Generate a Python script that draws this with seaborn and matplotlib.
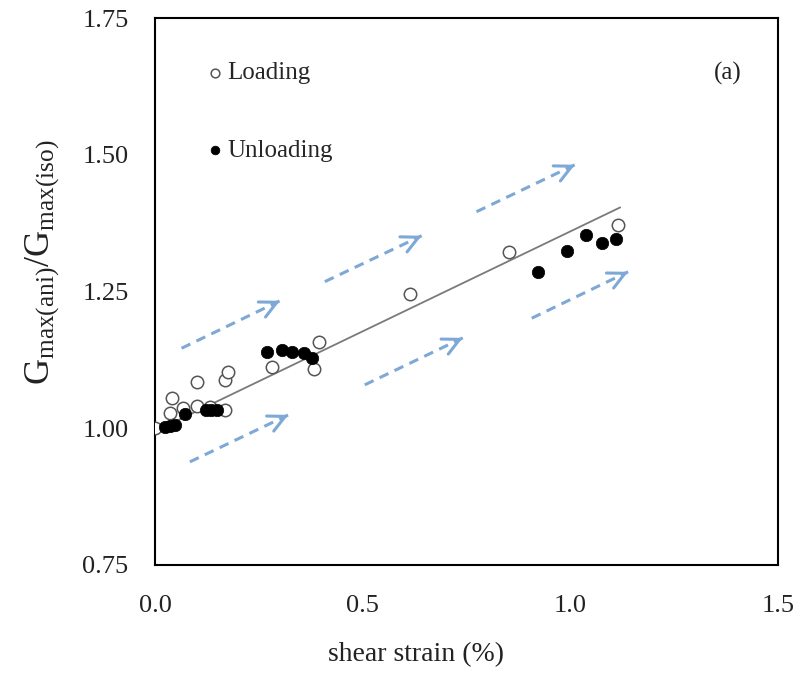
import numpy as np
import pandas as pd
import matplotlib
matplotlib.use("Agg")
import matplotlib.pyplot as plt
import seaborn as sns

# Loading path (open circles)
load_strain = [0.000, 0.036, 0.042, 0.068, 0.102, 0.102, 0.132, 0.168, 0.168, 0.176,
               0.282, 0.382, 0.395, 0.614, 0.853, 1.115]
load_ratio = [1.000, 1.027, 1.055, 1.036, 1.085, 1.040, 1.038, 1.033, 1.088, 1.103,
              1.111, 1.108, 1.158, 1.245, 1.322, 1.372]

# Unloading path (filled circles)
unload_strain = [0.024, 0.036, 0.048, 0.072, 0.124, 0.136, 0.150, 0.269, 0.305, 0.330,
                 0.359, 0.377, 0.923, 0.991, 1.037, 1.076, 1.110]
unload_ratio = [1.002, 1.004, 1.005, 1.026, 1.033, 1.033, 1.033, 1.139, 1.143, 1.140,
                1.138, 1.129, 1.286, 1.324, 1.353, 1.339, 1.346]

# Linear trend
trend_slope = 0.366
trend_intercept = 0.994
trend_range = [0.0, 1.12]

# Dashed direction arrows: (x0, y0, x1, y1)
arrows = [
    (0.084, 0.938, 0.321, 1.024),
    (0.064, 1.146, 0.301, 1.233),
    (0.505, 1.079, 0.741, 1.165),
    (0.409, 1.268, 0.642, 1.352),
    (0.774, 1.396, 1.011, 1.482),
    (0.907, 1.201, 1.139, 1.286),
]

x_ticks = [0.0, 0.5, 1.0, 1.5]
x_tick_labels = ["0.0", "0.5", "1.0", "1.5"]
y_ticks = [0.75, 1.00, 1.25, 1.50, 1.75]
y_tick_labels = ["0.75", "1.00", "1.25", "1.50", "1.75"]

sns.set_style("white")
plt.rcParams["font.family"] = ["Liberation Serif", "DejaVu Serif"]
plt.rcParams["mathtext.fontset"] = "custom"
plt.rcParams["mathtext.rm"] = "Liberation Serif"
plt.rcParams["mathtext.it"] = "Liberation Serif:italic"

fig = plt.figure(figsize=(7.98, 6.81), dpi=100)
ax = fig.add_axes([0.1942, 0.171, 0.7808, 0.802])

load_df = pd.DataFrame({"strain": load_strain, "ratio": load_ratio})
unload_df = pd.DataFrame({"strain": unload_strain, "ratio": unload_ratio})

tx = np.array(trend_range)
sns.lineplot(x=tx, y=trend_intercept + trend_slope * tx, ax=ax,
             color="#7a7a7a", linewidth=1.3, zorder=1)

sns.scatterplot(data=load_df, x="strain", y="ratio", ax=ax, s=80,
                facecolor="white", edgecolor="#555555", linewidth=1.1,
                label="Loading", zorder=3)
sns.scatterplot(data=unload_df, x="strain", y="ratio", ax=ax, s=80,
                color="black", edgecolor="black", linewidth=0.5,
                label="Unloading", zorder=4)

arrow_color = "#7ea8d6"
for x0, y0, x1, y1 in arrows:
    # dashed shaft
    ax.plot([x0, x1], [y0, y1], color=arrow_color, lw=2.2,
            linestyle=(0, (3.2, 2.2)), solid_capstyle="butt", zorder=2)
    # solid open head at the tip
    hx = x1 - 0.06 * (x1 - x0)
    hy = y1 - 0.06 * (y1 - y0)
    ax.annotate("", xy=(x1, y1), xytext=(hx, hy),
                arrowprops=dict(arrowstyle="->", color=arrow_color, lw=2.2,
                                mutation_scale=30, shrinkA=0, shrinkB=0),
                zorder=2)

ax.set_xlim(0, 1.5)
ax.set_ylim(0.75, 1.75)
ax.set_xticks(x_ticks)
ax.set_xticklabels(x_tick_labels)
ax.set_yticks(y_ticks)
ax.set_yticklabels(y_tick_labels)
ax.tick_params(axis="both", direction="in", length=6, width=1.0,
               labelsize=19, colors="#222222", top=False, right=False)
ax.tick_params(axis="x", pad=22)
ax.tick_params(axis="y", pad=19)
for sp in ax.spines.values():
    sp.set_color("black")
    sp.set_linewidth(1.5)

ax.set_xlabel("shear strain (%)", fontsize=20, color="#222222")
ax.xaxis.set_label_coords(0.419, -0.142)
ax.set_ylabel(r"$\mathrm{G_{max(ani)}/G_{max(iso)}}$", fontsize=26,
              color="#222222")
ax.yaxis.set_label_coords(-0.15, 0.554)

leg = ax.legend(loc="upper left", bbox_to_anchor=(0.04, 0.962), frameon=False,
                fontsize=18, markerscale=0.7, handletextpad=0.0,
                labelspacing=2.2, handlelength=1.0)

ax.text(0.942, 0.90, "(a)", transform=ax.transAxes, fontsize=18,
        ha="right", va="center", color="#222222")

fig.savefig("out.png", dpi=100, facecolor="white")
